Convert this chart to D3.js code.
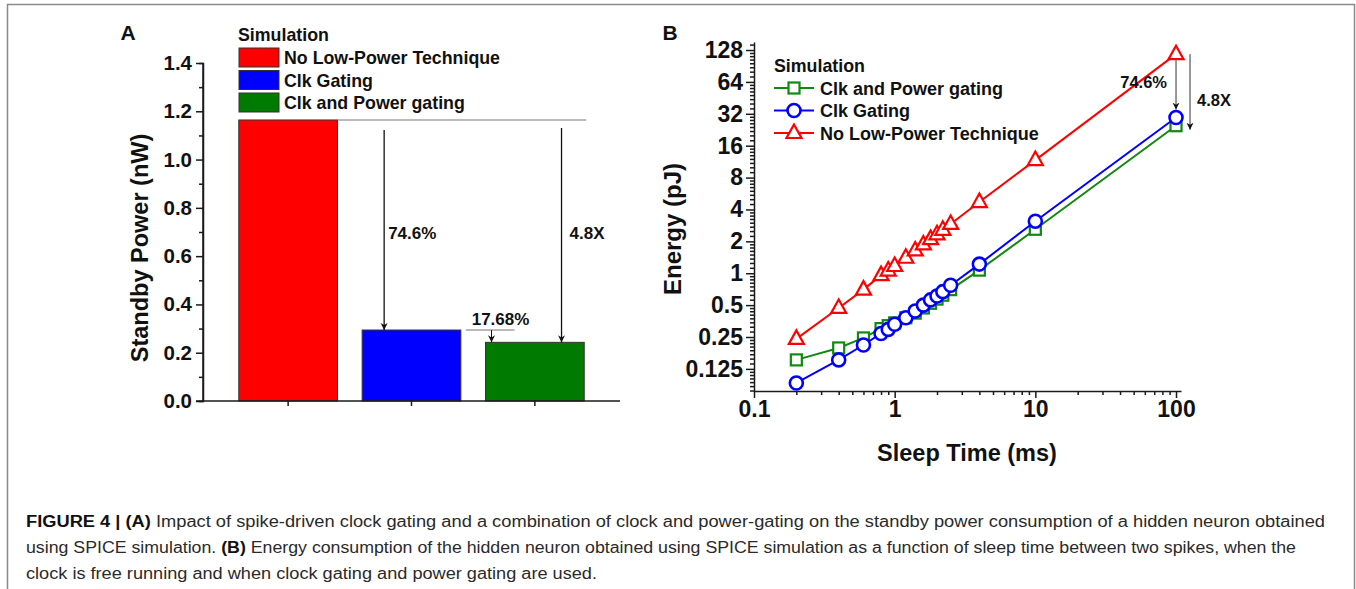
<!DOCTYPE html>
<meta charset='utf-8'>
<style>
	body {
		margin: 0;
		background: #fff;
	}

	text {
		font-family: 'Liberation Sans', Arial, sans-serif;
		font-weight: bold;
		fill: #111;
	}

	.axis path, .axis line {
		stroke: #1a1a1a;
		stroke-width: 1.5px;
		fill: none;
	}

	.caption text, text.caption {
		font-family: 'Liberation Sans Narrow', 'Liberation Sans', Arial, sans-serif;
		font-weight: normal;
		fill: #2a2a2a;
	}
</style>
<body>
<script src='https://cdn.jsdelivr.net/npm/d3@7/dist/d3.min.js'></script>

<script type='text/javascript'>
	// panel A: standby power
	var categories = ['No Low-Power Technique', 'Clk Gating', 'Clk and Power gating'];
	var standbyPower = [1.164, 0.294, 0.243];
	var barColors = ['#ff0000', '#0000ff', '#007a00'];
	var yTicksA = [0, 0.2, 0.4, 0.6, 0.8, 1.0, 1.2, 1.4];

	// panel B: energy vs sleep time
	var sleepTime = [0.2, 0.4, 0.6, 0.8, 0.9, 1.0, 1.2, 1.4, 1.6, 1.8, 2.0, 2.2, 2.5, 4, 10, 100];
	var energyNoLowPower = [0.24, 0.47, 0.70, 0.96, 1.06, 1.17, 1.40, 1.64, 1.87, 2.10, 2.33, 2.57, 2.92, 4.7, 11.7, 117];
	var energyClkGating = [0.092, 0.152, 0.21, 0.27, 0.295, 0.33, 0.38, 0.44, 0.50, 0.56, 0.61, 0.67, 0.77, 1.22, 3.1, 29.5];
	var energyClkPower = [0.152, 0.197, 0.245, 0.30, 0.32, 0.34, 0.38, 0.42, 0.47, 0.52, 0.57, 0.62, 0.70, 1.07, 2.6, 24.7];
	var yTicksB = [0.125, 0.25, 0.5, 1, 2, 4, 8, 16, 32, 64, 128];
	var xTicksB = [0.1, 1, 10, 100];

	var captionLines = [
		[['FIGURE 4 | (A)', true], [' Impact of spike-driven clock gating and a combination of clock and power-gating on the standby power consumption of a hidden neuron obtained', false]],
		[['using SPICE simulation. ', false], ['(B)', true], [' Energy consumption of the hidden neuron obtained using SPICE simulation as a function of sleep time between two spikes, when the', false]],
		[['clock is free running and when clock gating and power gating are used.', false]]
	];
	var captionWidths = [1299, 1270, 571];

	var W = 1356, H = 589;
	var svg = d3.select('body').append('svg').attr('width', W).attr('height', H);

	var defs = svg.append('defs');
	defs.append('marker').attr('id', 'head').attr('viewBox', '0 0 10 10')
		.attr('refX', 10).attr('refY', 5).attr('markerWidth', 7).attr('markerHeight', 9)
		.attr('markerUnits', 'userSpaceOnUse').attr('orient', 'auto')
		.append('path').attr('d', 'M0,0 L10,5 L0,10 L3,5 Z').attr('fill', '#111');

	// outer frame
	svg.append('rect').attr('x', 7.5).attr('y', 4.5).attr('width', 1347).attr('height', 620)
		.attr('fill', 'none').attr('stroke', '#8a8a8a').attr('stroke-width', 1.5);

	// ---------- panel A ----------
	var gA = svg.append('g');
	var xA = d3.scaleBand().domain(categories).range([203, 620]).paddingInner(0.2).paddingOuter(0.29);
	var yA = d3.scaleLinear().domain([0, 1.4]).range([401, 63]);

	gA.selectAll('rect.bar').data(categories).enter().append('rect').attr('class', 'bar')
		.attr('x', function (d) { return xA(d); })
		.attr('y', function (d, i) { return yA(standbyPower[i]); })
		.attr('width', xA.bandwidth())
		.attr('height', function (d, i) { return yA(0) - yA(standbyPower[i]); })
		.attr('fill', function (d, i) { return barColors[i]; })
		.attr('stroke', '#333').attr('stroke-width', 1);

	var minorA = d3.range(0.1, 1.4, 0.2);
	gA.append('g').attr('class', 'axis').attr('transform', 'translate(203,0)')
		.call(d3.axisLeft(yA).tickValues(minorA).tickSize(4).tickFormat(''));
	var axA = gA.append('g').attr('class', 'axis').attr('transform', 'translate(203,0)')
		.call(d3.axisLeft(yA).tickValues(yTicksA).tickSize(7).tickSizeOuter(0).tickFormat(d3.format('.1f')));
	axA.selectAll('text').attr('font-size', 20.5).attr('x', -11).attr('fill', '#111');
	axA.select('.domain').attr('d', 'M0,' + yA(1.4) + 'V' + yA(0));

	var axAx = gA.append('g').attr('class', 'axis').attr('transform', 'translate(0,' + yA(0) + ')')
		.call(d3.axisBottom(xA).tickSize(5).tickSizeOuter(0).tickFormat(''));
	axAx.select('.domain').attr('d', 'M196,0H620');

	gA.append('text').attr('transform', 'translate(148,' + 248 + ') rotate(-90)')
		.attr('text-anchor', 'middle').attr('font-size', 23.5).text('Standby Power (nW)');
	gA.append('text').attr('x', 128).attr('y', 40).attr('text-anchor', 'middle').attr('font-size', 21).text('A');

	// legend A
	gA.append('text').attr('x', 238).attr('y', 41).attr('font-size', 17.8).text('Simulation');
	var legA = gA.selectAll('g.legA').data(categories).enter().append('g')
		.attr('transform', function (d, i) { return 'translate(239,' + (48 + i * 22.5) + ')'; });
	legA.append('rect').attr('width', 40).attr('height', 19)
		.attr('fill', function (d, i) { return barColors[i]; }).attr('stroke', '#333').attr('stroke-width', 1);
	legA.append('text').attr('x', 45).attr('y', 16).attr('font-size', 17.8).text(function (d) { return d; });

	// annotations A
	var redTop = yA(standbyPower[0]), blueTop = yA(standbyPower[1]), greenTop = yA(standbyPower[2]);
	var blueX = xA(categories[1]), greenX = xA(categories[2]);
	gA.append('line').attr('x1', xA(categories[0]) + xA.bandwidth()).attr('x2', greenX + xA.bandwidth() + 2)
		.attr('y1', redTop).attr('y2', redTop).attr('stroke', '#777').attr('stroke-width', 1.2);
	gA.append('line').attr('x1', blueX + 22).attr('x2', blueX + 22).attr('y1', redTop + 10).attr('y2', blueTop)
		.attr('stroke', '#111').attr('stroke-width', 1.3).attr('marker-end', 'url(#head)');
	gA.append('text').attr('x', blueX + 26).attr('y', 239).attr('font-size', 17).text('74.6%');
	gA.append('line').attr('x1', greenX + 76).attr('x2', greenX + 76).attr('y1', redTop + 8).attr('y2', greenTop)
		.attr('stroke', '#111').attr('stroke-width', 1.3).attr('marker-end', 'url(#head)');
	gA.append('text').attr('x', greenX + 84).attr('y', 239).attr('font-size', 17).text('4.8X');
	gA.append('line').attr('x1', blueX + xA.bandwidth() + 5).attr('x2', greenX + 29)
		.attr('y1', blueTop).attr('y2', blueTop).attr('stroke', '#777').attr('stroke-width', 1.2);
	gA.append('line').attr('x1', greenX + 6).attr('x2', greenX + 6).attr('y1', blueTop).attr('y2', greenTop)
		.attr('stroke', '#111').attr('stroke-width', 1).attr('marker-end', 'url(#head)');
	gA.append('text').attr('x', greenX + 15).attr('y', blueTop - 5).attr('text-anchor', 'middle')
		.attr('font-size', 17).text('17.68%');

	// ---------- panel B ----------
	var gB = svg.append('g');
	var xB = d3.scaleLog().domain([0.1, 108.5]).range([754, 1181]);
	var yB = d3.scaleLog().base(2).domain([0.0773, 152.4]).range([391, 42]);

	var minorY = [];
	for (var k = -5; k < 8; k++) {
		for (var j = 1; j < 8; j++) {
			var v = Math.pow(2, k) * (1 + j / 8);
			if (v > yB.domain()[0] && v < yB.domain()[1]) minorY.push(v);
		}
	}
	var minorX = [];
	[0.1, 1, 10, 100].forEach(function (dec) {
		for (var m = 2; m < 10; m++) {
			if (dec * m < xB.domain()[1]) minorX.push(dec * m);
		}
	});

	gB.append('g').attr('class', 'axis').attr('transform', 'translate(754,0)')
		.call(d3.axisLeft(yB).tickValues(minorY).tickSize(4).tickFormat(''))
		.select('.domain').remove();
	var axBy = gB.append('g').attr('class', 'axis').attr('transform', 'translate(754,0)')
		.call(d3.axisLeft(yB).tickValues(yTicksB).tickSize(8).tickSizeOuter(0).tickFormat(function (d) { return String(d); }));
	axBy.selectAll('text').attr('font-size', 23).attr('x', -11).attr('fill', '#111');

	gB.append('g').attr('class', 'axis').attr('transform', 'translate(0,391)')
		.call(d3.axisBottom(xB).tickValues(minorX).tickSize(4).tickFormat(''))
		.select('.domain').remove();
	var axBx = gB.append('g').attr('class', 'axis').attr('transform', 'translate(0,391)')
		.call(d3.axisBottom(xB).tickValues(xTicksB).tickSize(7).tickSizeOuter(0).tickFormat(function (d) { return String(d); }));
	axBx.selectAll('text').attr('font-size', 23).attr('y', 10).attr('fill', '#111');

	gB.append('text').attr('transform', 'translate(681,229) rotate(-90)')
		.attr('text-anchor', 'middle').attr('font-size', 24).text('Energy (pJ)');
	gB.append('text').attr('x', 967).attr('y', 461).attr('text-anchor', 'middle').attr('font-size', 23.5).text('Sleep Time (ms)');
	gB.append('text').attr('x', 670).attr('y', 40).attr('text-anchor', 'middle').attr('font-size', 21).text('B');

	var series = [
		{name: 'Clk and Power gating', values: energyClkPower, color: '#118811', shape: 'square'},
		{name: 'Clk Gating', values: energyClkGating, color: '#0000ff', shape: 'circle'},
		{name: 'No Low-Power Technique', values: energyNoLowPower, color: '#ff0000', shape: 'triangle'}
	];

	var line = d3.line().x(function (d) { return xB(d[0]); }).y(function (d) { return yB(d[1]); });

	function drawMarker(g, shape, color) {
		if (shape === 'square') {
			g.append('rect').attr('x', -5.5).attr('y', -5.5).attr('width', 11).attr('height', 11)
				.attr('fill', '#fff').attr('stroke', color).attr('stroke-width', 2.2);
		} else if (shape === 'circle') {
			g.append('circle').attr('r', 6.5).attr('fill', '#fff').attr('stroke', color).attr('stroke-width', 2.6);
		} else {
			g.append('path').attr('d', 'M0,-8.5 L7.5,5 L-7.5,5 Z')
				.attr('fill', '#fff').attr('stroke', color).attr('stroke-width', 2.2);
		}
	}

	series.forEach(function (s) {
		var pts = sleepTime.map(function (t, i) { return [t, s.values[i]]; });
		gB.append('path').datum(pts).attr('d', line).attr('fill', 'none')
			.attr('stroke', s.color).attr('stroke-width', 2);
		gB.selectAll(null).data(pts).enter().append('g')
			.attr('transform', function (d) { return 'translate(' + xB(d[0]) + ',' + yB(d[1]) + ')'; })
			.each(function () { drawMarker(d3.select(this), s.shape, s.color); });
	});

	// legend B
	gB.append('text').attr('x', 774).attr('y', 72).attr('font-size', 17.8).text('Simulation');
	series.forEach(function (s, i) {
		var lg = gB.append('g').attr('transform', 'translate(774,' + (88 + i * 22.5) + ')');
		lg.append('line').attr('x1', 0).attr('x2', 40).attr('stroke', s.color).attr('stroke-width', 2);
		drawMarker(lg.append('g').attr('transform', 'translate(20,0)'), s.shape, s.color);
		lg.append('text').attr('x', 46).attr('y', 6.5).attr('font-size', 18).text(s.name);
	});

	// annotations B
	var x100 = xB(100);
	gB.append('line').attr('x1', x100).attr('x2', x100)
		.attr('y1', yB(energyNoLowPower[15]) + 6).attr('y2', yB(energyClkGating[15]) - 8)
		.attr('stroke', '#333').attr('stroke-width', 1).attr('marker-end', 'url(#head)');
	gB.append('text').attr('x', x100 - 9).attr('y', 88).attr('text-anchor', 'end').attr('font-size', 16.5).text('74.6%');
	gB.append('line').attr('x1', x100 + 14).attr('x2', x100 + 14)
		.attr('y1', yB(energyNoLowPower[15])).attr('y2', yB(energyClkPower[15]) + 4)
		.attr('stroke', '#333').attr('stroke-width', 1).attr('marker-end', 'url(#head)');
	gB.append('text').attr('x', x100 + 21).attr('y', 106).attr('font-size', 16.5).text('4.8X');

	// caption
	var cap = svg.append('g').attr('class', 'caption');
	captionLines.forEach(function (parts, i) {
		var t = cap.append('text').attr('x', 26).attr('y', 527 + i * 26).attr('font-size', 16)
			.attr('textLength', captionWidths[i]).attr('lengthAdjust', 'spacingAndGlyphs');
		parts.forEach(function (p) {
			t.append('tspan').attr('font-weight', p[1] ? 'bold' : 'normal')
				.attr('fill', p[1] ? '#111' : '#2a2a2a').text(p[0]);
		});
	});
</script>
